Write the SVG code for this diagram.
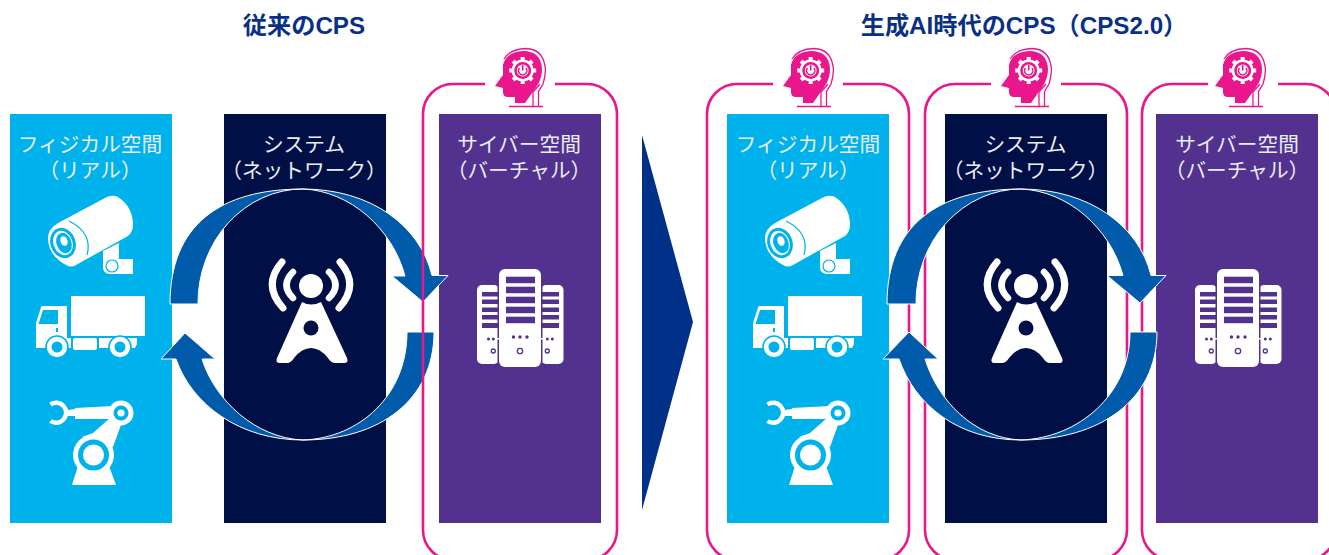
<svg xmlns="http://www.w3.org/2000/svg" width="1329" height="555" viewBox="0 0 1329 555">
<style>
.cy{fill:#00b2ec}.nv{fill:#000f45}.pu{fill:#52318f}
.lb{font-family:"Noto Sans CJK JP","Noto Sans",sans-serif;font-size:20.7px;fill:#e9edf5;text-anchor:middle;font-weight:400}
.tt{font-family:"Liberation Sans","Noto Sans CJK JP",sans-serif;font-size:24.2px;font-weight:700;fill:#0a2f86;text-anchor:middle}
.fr{fill:none;stroke:#e9168c;stroke-width:2.6}
.ar{fill:#005bab;stroke:#fff;stroke-width:1}
</style>
<defs>
<g id="cam">
<path fill="#fff" d="M58,223L105,198Q112,194 118,197Q133,207 133,225Q133,232 128,236L76,265Q71,268 66,265Q48,255 48,238Q48,229 58,223Z"/>
<path fill="#fff" d="M103,251L119,243V259H133V274H110Q103,274 103,267Z"/>
<ellipse cx="63" cy="243" rx="12.5" ry="15.5" class="cy" transform="rotate(-20 63 243)"/>
<ellipse cx="63" cy="243" rx="9.5" ry="12.5" fill="#fff" transform="rotate(-20 63 243)"/>
<ellipse cx="64" cy="243" rx="7.5" ry="10.5" class="cy" transform="rotate(-20 64 243)"/>
<ellipse cx="64" cy="241" rx="3.5" ry="5" fill="#fff" transform="rotate(-20 64 241)"/>
<path d="M69,221Q93,233 87,255" fill="none" stroke="#00b2ec" stroke-width="1.2"/>
<circle cx="112" cy="266" r="6" fill="#fff" stroke="#00b2ec" stroke-width="1.2"/>
</g>
<g id="truck">
<rect x="71" y="296" width="74" height="40" fill="#fff"/>
<path fill="#fff" d="M41.5,306H67V348H36V323Z"/>
<path class="cy" d="M43,310H58V324H38.5Z"/>
<rect x="56" y="328" width="2" height="4" class="cy"/>
<path fill="#fff" d="M66,338H71V348H66Z"/>
<rect x="73" y="338" width="24" height="12" rx="2" fill="#fff"/>
<rect x="99" y="338" width="16" height="10" fill="#fff"/>
<path fill="#fff" d="M125,338H137V344L135,348H125Z"/>
<circle cx="57" cy="347" r="11" fill="#fff" stroke="#00b2ec" stroke-width="1.6"/>
<circle cx="57" cy="347" r="5.5" class="cy"/>
<circle cx="120" cy="347" r="11" fill="#fff" stroke="#00b2ec" stroke-width="1.6"/>
<circle cx="120" cy="347" r="5.5" class="cy"/>
</g>
<g id="robot">
<path d="M50.500,404.500A10,10 0 1 1 50.500,421" fill="none" stroke="#fff" stroke-width="4.500"/>
<path fill="#fff" d="M68,410L75,409L75,408L113,406V419L75,419V416L68,416Z"/>
<path fill="#fff" d="M110,418L121,425L113,447L82,437L93,433Z"/>
<circle cx="121" cy="413" r="12.500" fill="#fff"/>
<circle cx="121" cy="413" r="7.500" class="cy"/>
<circle cx="121" cy="413" r="3.600" fill="#fff"/>
<path fill="#fff" d="M78,466H109L116,485H72Z"/>
<circle cx="93.500" cy="455" r="20.500" fill="#fff"/>
<circle cx="93.500" cy="455" r="15.500" class="cy"/>
<circle cx="93.500" cy="455" r="10.500" fill="#fff"/>
</g>
<g id="tower">
<circle cx="311" cy="286" r="12" fill="#fff"/>
<path fill="#fff" d="M302,302Q311,307 321,302L347,358Q349,363 344,363H335Q331,363 328,358Q320,348 311,348Q302,348 294,358Q291,363 287,363H280Q275,363 277,358Z"/>
<circle cx="311" cy="328" r="7.500" fill="#000f45"/>
<g fill="none" stroke="#fff" stroke-linecap="round">
<path stroke-width="6.500" d="M293,272Q280,285 293,298M329,272Q342,285 329,298"/>
<path stroke-width="7" d="M282,262Q262,285 283,308M340,262Q360,285 339,308"/>
</g>
</g>
<g id="server">
<rect x="477" y="285" width="22" height="79" rx="5" fill="#fff"/>
<rect x="541" y="285" width="22.500" height="79" rx="5" fill="#fff"/>
<rect x="497.500" y="280" width="1.500" height="88" class="pu"/>
<rect x="541" y="280" width="1.500" height="88" class="pu"/>
<rect x="497" y="338" width="3" height="1.500" fill="#fff"/><rect x="540" y="338" width="3" height="1.500" fill="#fff"/>
<rect x="499" y="269" width="42" height="98" rx="6" fill="#fff"/>
<g class="pu">
<rect x="506" y="276.700" width="29" height="6.500"/><rect x="506" y="286.700" width="29" height="6.500"/><rect x="506" y="296.700" width="29" height="6.500"/><rect x="506" y="306.700" width="29" height="6.500"/><rect x="506" y="316.700" width="29" height="6.500"/>
<rect x="482" y="292" width="16" height="4.500"/><rect x="482" y="299.500" width="16" height="4.500"/><rect x="482" y="307.500" width="16" height="4.500"/><rect x="482" y="315" width="16" height="4.500"/><rect x="482" y="323" width="16" height="5"/>
<rect x="542" y="292" width="17" height="4.500"/><rect x="542" y="299.500" width="17" height="4.500"/><rect x="542" y="307.500" width="17" height="4.500"/><rect x="542" y="315" width="17" height="4.500"/><rect x="542" y="323" width="17" height="5"/>
<circle cx="513.500" cy="337" r="1.700"/><circle cx="520" cy="337" r="1.700"/><circle cx="527" cy="337" r="1.700"/>
<circle cx="488.500" cy="339" r="1.500"/><circle cx="493.300" cy="339" r="1.500"/><circle cx="547.300" cy="339" r="1.500"/><circle cx="552.300" cy="339" r="1.500"/>
</g>
<g fill="none" stroke="#52318f" stroke-width="1.300"><circle cx="520" cy="351" r="2.700"/><circle cx="493.300" cy="351" r="2"/><circle cx="547.300" cy="351" r="2"/></g>
</g>
<g id="head">
<path fill="#e9168c" d="M503,65Q506,52 523,51Q541,51 542,69Q542,78 537,86L525,103H515V97H508Q503,97 503,92V88L495,86L503,75Z"/>
<path fill="none" stroke="#e9168c" stroke-width="1.300" d="M504,59Q510,49 526,48.500Q544,49 545.500,70Q545,78 543,84L538.500,91.500V106M540,84L533,92V106M509,106.500H543"/>
<circle cx="522.700" cy="70.500" r="11" fill="#fff"/>
<g stroke="#fff" stroke-width="4"><path d="M522.700,57V84M509.200,70.500H536.200M513.200,61L532.200,80M532.200,61L513.200,80"/></g>
<circle cx="522.700" cy="70.500" r="7.200" fill="#fff" stroke="#e9168c" stroke-width="2.600"/>
<path d="M519.500,68A4.200,4.200 0 1 0 525.900,68" fill="none" stroke="#e9168c" stroke-width="1.500"/>
<path d="M522.700,65V70.500" stroke="#e9168c" stroke-width="1.600"/>
</g>
</defs>

<g id="titles">
<text class="tt" x="304" y="34">従来のCPS</text>
<text class="tt" x="1024" y="34">生成AI時代のCPS（CPS2.0）</text>
</g>

<g id="physical-1">
<rect class="cy" x="10" y="114" width="162" height="409"/>
<text class="lb" x="90" y="152">フィジカル空間</text>
<text class="lb" x="90" y="178">（リアル）</text>
<use href="#cam"/><use href="#truck"/><use href="#robot"/>
</g>
<g id="system-1">
<rect class="nv" x="224" y="114" width="162" height="409"/>
<text class="lb" x="304" y="152">システム</text>
<text class="lb" x="304" y="178">（ネットワーク）</text>
<use href="#tower"/>
</g>
<g id="cyber-1">
<rect class="pu" x="439" y="114" width="162" height="409"/>
<text class="lb" x="519" y="152">サイバー空間</text>
<text class="lb" x="519" y="178">（バーチャル）</text>
<use href="#server"/>
</g>

<g id="connectors-1">
<path class="ar" d="M170,304C170,225 220,189 303,189A105,114 0 0 0 198,304Z"/>
<path class="ar" d="M303,189C370,189 420,225 432,275.500H448L423,302L392,276H405C392,228 350,191 303,189Z"/>
<path class="ar" d="M407,332H434C434,400 380,440 303,440C360,438 407,395 407,332Z"/>
<path class="ar" d="M303,440C240,440 192,405 176,359H161L185,333L215,359H202C215,400 255,438 303,440Z"/>
</g>
<g id="ai-frame-1">
<path class="fr" d="M485,84H453A30,30 0 0 0 423,114V530A30,30 0 0 0 453,560H587A30,30 0 0 0 617,530V114A30,30 0 0 0 587,84H555"/>
<use href="#head"/>
</g>

<polygon id="transition" points="642,135 693,322 642,510" fill="#003087"/>

<g id="physical-2">
<rect class="cy" x="727" y="114" width="162" height="409"/>
<text class="lb" x="808" y="152">フィジカル空間</text>
<text class="lb" x="808" y="178">（リアル）</text>
<g transform="translate(717,0)"><use href="#cam"/><use href="#truck"/><use href="#robot"/></g>
</g>
<g id="system-2">
<rect class="nv" x="945" y="114" width="162" height="409"/>
<text class="lb" x="1025.500" y="152">システム</text>
<text class="lb" x="1025.500" y="178">（ネットワーク）</text>
<use href="#tower" transform="translate(715,0)"/>
</g>
<g id="cyber-2">
<rect class="pu" x="1156" y="114" width="162" height="409"/>
<text class="lb" x="1237" y="152">サイバー空間</text>
<text class="lb" x="1237" y="178">（バーチャル）</text>
<use href="#server" transform="translate(718,0)"/>
</g>
<g id="ai-frame-2">
<path class="fr" d="M773,84H737A30,30 0 0 0 707,114V530A30,30 0 0 0 737,560H879A30,30 0 0 0 909,530V114A30,30 0 0 0 879,84H843"/>
<use href="#head" transform="translate(288,0)"/>
</g>
<g id="ai-frame-3">
<path class="fr" d="M991,84H955A30,30 0 0 0 925,114V530A30,30 0 0 0 955,560H1097A30,30 0 0 0 1127,530V114A30,30 0 0 0 1097,84H1061"/>
<use href="#head" transform="translate(506,0)"/>
</g>
<g id="ai-frame-4">
<path class="fr" d="M1208,84H1172A30,30 0 0 0 1142,114V530A30,30 0 0 0 1172,560H1306A30,30 0 0 0 1336,530V114A30,30 0 0 0 1306,84H1278"/>
<use href="#head" transform="translate(720,0)"/>
</g>
<g id="connectors-2">
<path class="ar" d="M887,304C887,225 938,189 1021,189A105,114 0 0 0 916,304Z"/>
<path class="ar" d="M1021,189C1088,189 1139,225 1151,275.500H1166L1140,303L1107,275.500H1123C1110,228 1068,191 1021,189Z"/>
<path class="ar" d="M1130,332H1157C1157,400 1100,440 1021,440C1078,438 1130,395 1130,332Z"/>
<path class="ar" d="M1021,440C958,440 915,405 899,359H883L909,332L938,359H925C938,400 973,438 1021,440Z"/>
</g>
</svg>
